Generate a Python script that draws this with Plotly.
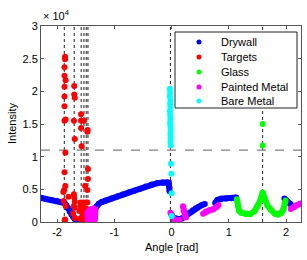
import plotly.graph_objects as go

# ---------------- data ----------------
drywall_x = [-2.28, -2.2, -2.1, -2.0, -1.92, -1.87, -1.84, -1.81, -1.78, -1.75, -1.72, -1.69, -1.66, -1.62, -1.57, -1.52, -1.47,
             None,
             -1.38, -1.35, -1.31, -1.27, -1.22, -1.15, -1.05, -0.95, -0.85, -0.75, -0.65, -0.55, -0.45, -0.35, -0.25, -0.15, -0.08, -0.05, -0.04, -0.035,
             None,
             0.03, 0.08, 0.13, 0.18, 0.22, 0.27, 0.32, 0.37, 0.42, 0.47, 0.52, 0.58,
             None,
             0.76, 0.8, 0.86, 0.95, 1.05, 1.13,
             None,
             1.97, 2.0, 2.04, 2.08]
drywall_y = [3700, 3550, 3350, 3200, 3050, 2900, 2550, 2100, 1600, 1150, 750, 400, 200, 150, 150, 200, 250,
             None,
             1500, 1900, 2400, 2800, 3050, 3300, 3600, 3900, 4200, 4500, 4800, 5100, 5450, 5750, 5950, 6050, 6100, 6000, 5300, 4700,
             None,
             650, 500, 450, 550, 800, 1100, 1450, 1800, 2100, 2350, 2550, 2750,
             None,
             2900, 3350, 3550, 3600, 3650, 3750,
             None,
             3600, 3200, 3000, 2700]

targets_x = [-1.86, -1.86, -1.87, -1.87, -1.85, -1.87, -1.87, -1.87, -1.87, -1.85, -1.855, -1.87, -1.855, -1.875, -1.89, -1.885, -1.85, -1.86, -1.865, -1.80,
             -1.70, -1.70, -1.69, -1.705, -1.69, -1.705, -1.70, -1.69, -1.705, -1.69, -1.69, -1.72,
             -1.58, -1.58, -1.58, -1.57, -1.59, -1.59, -1.61, -1.56, -1.56, -1.565, -1.60,
             -1.53, -1.54, -1.545, -1.53, -1.53, -1.51,
             -1.49, -1.49, -1.50, -1.50,
             -1.465, -1.47, -1.46, -1.46, -1.47, -1.47, -1.47, -1.48]
targets_y = [25300, 24900, 23700, 22400, 21700, 20700, 19200, 17700, 15500, 15700, 10600, 7600, 5500, 4900, 4600, 3200, 2450, 400, 250, 3850,
             20800, 19500, 19000, 15500, 12700, 4250, 3700, 3100, 2450, 2200, 600, 1300,
             16500, 15500, 14400, 11600, 3000, 2450, 1700, 1700, 900, 250, 500,
             15500, 3000, 2450, 1700, 250, 5500,
             3000, 900, 2000, 1300,
             14100, 13800, 8100, 6600, 4900, 3000, 900, 2000]

glass_x = [1.14, 1.16, 1.18, 1.22, 1.3, 1.37, 1.45, 1.5, 1.55, 1.59, 1.62, 1.67, 1.73, 1.8, 1.86, 1.92, 1.955, 1.975, 1.99,
           None, 1.59, None, 1.59]
glass_y = [3500, 2500, 1700, 1400, 1200, 1200, 1700, 2400, 3300, 4500, 3600, 2600, 1900, 1300, 1150, 1400, 2000, 2900, 3300,
           None, 15000, None, 11700]

painted_x = [-1.47, -1.46, -1.44, -1.42, -1.40, -1.38, -1.36, -1.34, -1.33,
             None,
             -0.02, 0.0, 0.03, 0.06, 0.1, 0.14,
             None,
             0.2, 0.21, 0.23, 0.25,
             None,
             0.55, 0.6, 0.66, 0.73, 0.79, 0.82,
             None,
             2.08, 2.13, 2.19, 2.25]
painted_y = [1400, 200, 1800, 100, 2000, 100, 2100, 300, 1900,
             None,
             1400, 1100, 600, 300, 200, 300,
             None,
             2400, 1700, 1000, 700,
             None,
             1250, 1600, 1800, 1950, 2300, 2600,
             None,
             2000, 2300, 2600, 2850]

bare_x = [-0.03, -0.025, -0.03, -0.02, -0.025, -0.02, -0.03, -0.025, -0.02, -0.025, -0.02, -0.015, -0.02, -0.015, -0.02, -0.015,
          -0.01, -0.005, 0.0, 0.0]
bare_y = [20400, 19800, 19200, 18600, 18100, 17600, 17000, 16400, 15800, 15200, 14700, 14100, 13500, 12900, 12300, 11700,
          8900, 7400, 4400, 900]

ref_lines_x = [-1.873, -1.70, -1.578, -1.53, -1.49, -1.46, -0.02, 1.59]
threshold = 11000

x_ticks = [-2, -1, 0, 1, 2]
x_tick_text = ["-2", "-1", "0", "1", "2"]
y_ticks = [0, 5000, 10000, 15000, 20000, 25000, 30000]
y_tick_text = ["0", "0.5", "1", "1.5", "2", "2.5", "3"]

# ---------------- figure ----------------
FONT = "Liberation Sans, Arial, sans-serif"
W, H = 307, 260
ML, MR, MT, MB = 41, 6, 26, 38
PW, PH = W - ML - MR, H - MT - MB


def px(x):
    return (x - ML) / PW


def py(y):
    return (H - MB - y) / PH


fig = go.Figure()

series = [
    ("Drywall", "#0000ff", drywall_x, drywall_y, True),
    ("Targets", "#ff0000", targets_x, targets_y, False),
    ("Glass", "#00ff00", glass_x, glass_y, True),
    ("Painted Metal", "#ff00ff", painted_x, painted_y, True),
    ("Bare Metal", "#00ffff", bare_x, bare_y, False),
]

for name, col, xs, ys, band in series:
    if band:
        fig.add_trace(go.Scatter(x=xs, y=ys, mode="lines", line=dict(color=col, width=6),
                                 showlegend=False, hoverinfo="skip"))
    fig.add_trace(go.Scatter(x=xs, y=ys, mode="markers", name=name, showlegend=False,
                             marker=dict(color=col, size=6, line=dict(width=0))))

for xv in ref_lines_x:
    fig.add_shape(type="line", xref="x", yref="paper", x0=xv, x1=xv, y0=0, y1=1,
                  line=dict(color="#222222", width=1, dash="dot"), layer="below")
fig.add_shape(type="line", xref="paper", yref="y", x0=0, x1=1, y0=threshold, y1=threshold,
              line=dict(color="#808080", width=1.2, dash="dash"), layer="below")

# legend box (drawn manually to match the compact row spacing)
fig.add_shape(type="rect", xref="paper", yref="paper", x0=px(175), x1=px(297), y0=py(108), y1=py(32),
              line=dict(color="#222222", width=1), fillcolor="white", layer="above")
row_y = [42, 57, 72, 87, 101]
for (name, col, _, _, _), ry in zip(series, row_y):
    fig.add_shape(type="circle", xref="paper", yref="paper",
                  x0=px(199 - 2.5), x1=px(199 + 2.5), y0=py(ry + 2.5), y1=py(ry - 2.5),
                  line=dict(width=0), fillcolor=col, layer="above")
    fig.add_annotation(text=name, xref="paper", yref="paper", x=px(219), y=py(ry),
                       xanchor="left", yanchor="middle", showarrow=False,
                       font=dict(family=FONT, size=11, color="black"))

fig.add_annotation(text="× 10<sup>4</sup>", xref="paper", yref="paper", x=0.0, y=1.0,
                   xanchor="left", yanchor="bottom", yshift=2, showarrow=False,
                   font=dict(family=FONT, size=11, color="black"))
fig.add_annotation(text="Intensity", xref="paper", yref="paper", x=px(12), y=0.5,
                   textangle=-90, xanchor="center", yanchor="middle", showarrow=False,
                   font=dict(family=FONT, size=11, color="black"))
fig.add_annotation(text="Angle [rad]", xref="paper", yref="paper", x=0.5, y=py(247),
                   xanchor="center", yanchor="middle", showarrow=False,
                   font=dict(family=FONT, size=11, color="black"))

axis_common = dict(showline=True, linecolor="#555555", linewidth=1, mirror="ticks",
                   ticks="inside", ticklen=3, tickcolor="#555555", showgrid=False, zeroline=False,
                   tickfont=dict(family=FONT, size=11, color="black"))
fig.update_xaxes(range=[-2.28, 2.26], tickvals=x_ticks, ticktext=x_tick_text, **axis_common)
fig.update_yaxes(range=[0, 30000], tickvals=y_ticks, ticktext=y_tick_text, **axis_common)

fig.update_layout(
    width=W, height=H,
    margin=dict(l=ML, r=MR, t=MT, b=MB),
    paper_bgcolor="white", plot_bgcolor="white",
    font=dict(family=FONT, size=11, color="black"),
    showlegend=False,
)

fig.write_html("out.html", config={"displayModeBar": False},
               post_script="document.body.style.margin='0';document.body.style.overflow='hidden';")
